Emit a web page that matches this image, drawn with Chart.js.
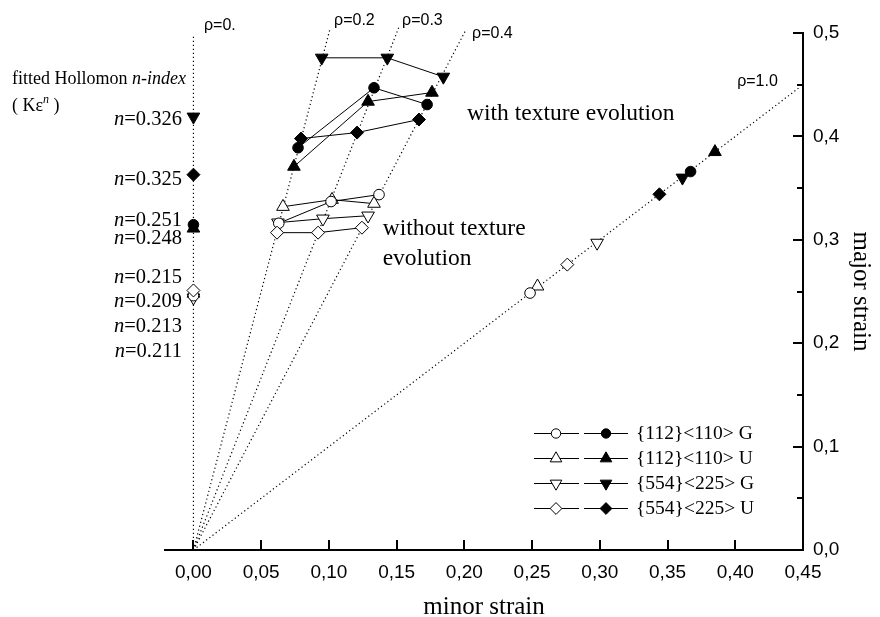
<!DOCTYPE html>
<html>
<head>
<meta charset="utf-8">
<script src="https://cdn.jsdelivr.net/npm/chart.js@4.4.1/dist/chart.umd.min.js"></script>
<style>
    html, body { margin: 0; padding: 0; background: #fff; }
    #wrap { position: relative; width: 880px; height: 617px; }
</style>
</head>
<body>
<div id="wrap"><canvas id="chart"></canvas></div>
<script>
// strain paths, rho = minor / major
const pathLabels = ['ρ=0.', 'ρ=0.2', 'ρ=0.3', 'ρ=0.4', 'ρ=1.0']
const pathEndMinor = [0, 0.101, 0.1515, 0.2007, 0.448]
const pathEndMajor = [0.497, 0.505, 0.505, 0.502, 0.448]

const seriesNames = ['{112}<110> G', '{112}<110> U', '{554}<225> G', '{554}<225> U']

// without texture evolution (open symbols), one point per strain path
const openMinor112G = [0, 0.063, 0.1016, 0.137, 0.2485]
const openMajor112G = [0.246, 0.316, 0.337, 0.3437, 0.2485]
const openMinor112U = [0, 0.0661, 0.1023, 0.1333, 0.254]
const openMajor112U = [0.248, 0.332, 0.3388, 0.335, 0.255]
const openMinor554G = [0, 0.0624, 0.0956, 0.1289, 0.298]
const openMajor554G = [0.244, 0.3166, 0.3204, 0.3233, 0.297]
const openMinor554U = [0, 0.0617, 0.092, 0.1244, 0.276]
const openMajor554U = [0.251, 0.3069, 0.3069, 0.3117, 0.276]

// with texture evolution (filled symbols)
const fillMinor112G = [0, 0.0772, 0.1333, 0.1725, 0.367]
const fillMajor112G = [0.3146, 0.389, 0.447, 0.4308, 0.366]
const fillMinor112U = [0, 0.0742, 0.1289, 0.1761, 0.385]
const fillMajor112U = [0.311, 0.3708, 0.4337, 0.4424, 0.385]
const fillMinor554G = [0, 0.0947, 0.1431, 0.1845, 0.361]
const fillMajor554G = [0.419, 0.476, 0.476, 0.4576, 0.36]
const fillMinor554U = [0, 0.0794, 0.1208, 0.1665, 0.344]
const fillMajor554U = [0.363, 0.3979, 0.4037, 0.4163, 0.344]

// fitted Hollomon n values written next to the rho=0 points
const nValues = ['0.326', '0.325', '0.251', '0.248', '0.215', '0.209', '0.213', '0.211']

const xTicks = [0, 0.05, 0.1, 0.15, 0.2, 0.25, 0.3, 0.35, 0.4, 0.45]
const xTickLabels = ['0,00', '0,05', '0,10', '0,15', '0,20', '0,25', '0,30', '0,35', '0,40', '0,45']
const yTicks = [0, 0.1, 0.2, 0.3, 0.4, 0.5]
const yTickLabels = ['0,0', '0,1', '0,2', '0,3', '0,4', '0,5']
const yMinorTicks = [0.05, 0.15, 0.25, 0.35, 0.45]

const serif = '"Liberation Serif", "Times New Roman", serif'
const sans = '"Liberation Sans", Arial, sans-serif'

const symbols = [
    { pointStyle: 'circle', rotation: 0, radius: 5.3 },
    { pointStyle: 'triangle', rotation: 0, radius: 7.3 },
    { pointStyle: 'triangle', rotation: 180, radius: 7.3 },
    { pointStyle: 'rectRot', rotation: 0, radius: 6.5 },
]

// where the free text sits, in data units
const nLabelX = -0.0085
const nLabelY = [0.4114, 0.3533, 0.3137, 0.2962, 0.2585, 0.2352, 0.211, 0.1868]
const pathLabelX = [0.0078, 0.1038, 0.154, 0.2057, 0.4014]
const pathLabelY = [0.507, 0.512, 0.512, 0.4995, 0.453]

function markerSet(label, minor, major, symbol, fill) {
    return {
        label,
        data: minor.map((x, i) => ({ x, y: major[i] })),
        showLine: true,
        borderColor: '#000',
        borderWidth: 1,
        segment: {
            // only the rho=0.2 .. 0.4 points are joined
            borderColor: ctx => (ctx.p0DataIndex >= 1 && ctx.p1DataIndex <= 3 ? '#000' : 'rgba(0,0,0,0)'),
        },
        pointStyle: symbol.pointStyle,
        pointRotation: symbol.rotation,
        pointRadius: symbol.radius,
        pointHoverRadius: symbol.radius,
        pointBackgroundColor: fill,
        pointBorderColor: '#000',
        pointBorderWidth: 1,
        clip: false,
    }
}

const datasets = [
    markerSet(seriesNames[0], fillMinor112G, fillMajor112G, symbols[0], '#000'),
    markerSet(seriesNames[1], fillMinor112U, fillMajor112U, symbols[1], '#000'),
    markerSet(seriesNames[2], fillMinor554G, fillMajor554G, symbols[2], '#000'),
    markerSet(seriesNames[3], fillMinor554U, fillMajor554U, symbols[3], '#000'),
    markerSet(seriesNames[3], openMinor554U, openMajor554U, symbols[3], '#fff'),
    markerSet(seriesNames[0], openMinor112G, openMajor112G, symbols[0], '#fff'),
    markerSet(seriesNames[1], openMinor112U, openMajor112U, symbols[1], '#fff'),
    markerSet(seriesNames[2], openMinor554G, openMajor554G, symbols[2], '#fff'),
]

pathLabels.forEach((label, i) => {
    datasets.push({
        label,
        data: [{ x: 0, y: 0 }, { x: pathEndMinor[i], y: pathEndMajor[i] }],
        showLine: true,
        borderColor: '#000',
        borderWidth: 1.2,
        borderDash: [1.2, 2.8],
        pointRadius: 0,
        order: 10,
        clip: false,
    })
})

function drawRuns(ctx, runs, x, y, align) {
    let width = 0
    for (const run of runs) {
        ctx.font = run.font
        width += ctx.measureText(run.text).width
    }
    let cx = align === 'right' ? x - width : x
    for (const run of runs) {
        ctx.font = run.font
        ctx.fillText(run.text, cx, y + (run.dy || 0))
        cx += ctx.measureText(run.text).width
    }
}

const decorations = {
    id: 'decorations',
    afterDraw(chart) {
        const { ctx, chartArea, scales: { x, y } } = chart
        const { right, bottom } = chartArea

        ctx.save()
        ctx.strokeStyle = '#000'
        ctx.fillStyle = '#000'

        // inward tick marks
        ctx.lineWidth = 2
        ctx.beginPath()
        for (const v of xTicks) {
            const px = Math.round(x.getPixelForValue(v))
            ctx.moveTo(px, bottom)
            ctx.lineTo(px, bottom - 10)
        }
        for (const v of yTicks) {
            const py = Math.round(y.getPixelForValue(v))
            ctx.moveTo(right, py)
            ctx.lineTo(right - 10, py)
        }
        for (const v of yMinorTicks) {
            const py = Math.round(y.getPixelForValue(v))
            ctx.moveTo(right, py)
            ctx.lineTo(right - 6, py)
        }
        ctx.stroke()

        // strain path names
        ctx.textBaseline = 'middle'
        ctx.textAlign = 'left'
        ctx.font = '16px ' + sans
        pathLabels.forEach((label, i) => {
            ctx.fillText(label, x.getPixelForValue(pathLabelX[i]), y.getPixelForValue(pathLabelY[i]))
        })

        // n-index labels
        ctx.textBaseline = 'alphabetic'
        nValues.forEach((n, i) => {
            drawRuns(ctx, [
                { text: 'n', font: 'italic 20.5px ' + serif },
                { text: '=' + n, font: '20.5px ' + serif },
            ], x.getPixelForValue(nLabelX), y.getPixelForValue(nLabelY[i]), 'right')
        })

        drawRuns(ctx, [
            { text: 'fitted Hollomon ', font: '18px ' + serif },
            { text: 'n-index', font: 'italic 18px ' + serif },
        ], x.getPixelForValue(-0.134), y.getPixelForValue(0.4502), 'left')
        drawRuns(ctx, [
            { text: '( Kε', font: '18px ' + serif },
            { text: 'n', font: 'italic 12px ' + serif, dy: -8 },
            { text: ' )', font: '18px ' + serif },
        ], x.getPixelForValue(-0.134), y.getPixelForValue(0.4245), 'left')

        ctx.font = '23.5px ' + serif
        ctx.fillText('with texture evolution', x.getPixelForValue(0.202), y.getPixelForValue(0.4163))
        ctx.fillText('without texture', x.getPixelForValue(0.1397), y.getPixelForValue(0.305))
        ctx.fillText('evolution', x.getPixelForValue(0.1397), y.getPixelForValue(0.2759))

        // legend: open and filled symbol per row
        const left = right - 269
        ctx.lineWidth = 1
        seriesNames.forEach((name, i) => {
            const ry = Math.round(bottom - 117.5 + i * 25) + 0.5
            ctx.strokeStyle = '#000'
            ctx.beginPath()
            ctx.moveTo(left, ry)
            ctx.lineTo(left + 45, ry)
            ctx.moveTo(left + 50, ry)
            ctx.lineTo(left + 94, ry)
            ctx.stroke()

            const s = symbols[i]
            const opts = { pointStyle: s.pointStyle, rotation: s.rotation, radius: s.radius - 0.6, borderWidth: 1 }
            ctx.fillStyle = '#fff'
            Chart.helpers.drawPoint(ctx, opts, left + 22, ry)
            ctx.fillStyle = '#000'
            Chart.helpers.drawPoint(ctx, opts, left + 72, ry)

            ctx.font = '19.5px ' + serif
            ctx.textBaseline = 'middle'
            ctx.fillText(name, left + 102, ry)
        })

        ctx.restore()
    }
}

new Chart(document.getElementById('chart'), {
    type: 'scatter',
    data: { datasets },
    options: {
        responsive: true,
        maintainAspectRatio: false,
        animation: false,
        events: [],
        layout: { padding: { left: 165, top: 33, right: 0, bottom: 0 } },
        plugins: {
            legend: { display: false },
            tooltip: { enabled: false },
        },
        scales: {
            x: {
                type: 'linear',
                position: 'bottom',
                min: -0.021,
                max: 0.45,
                afterBuildTicks: scale => { scale.ticks = xTicks.map(value => ({ value })) },
                afterFit: scale => { scale.height = 67 },
                ticks: {
                    autoSkip: false,
                    maxRotation: 0,
                    padding: 11,
                    color: '#000',
                    font: { family: sans, size: 19 },
                    callback: value => xTickLabels[xTicks.indexOf(value)],
                },
                grid: { display: true, drawOnChartArea: false, drawTicks: false, color: 'rgba(0,0,0,0)' },
                border: { display: true, color: '#000', width: 2 },
                title: {
                    display: true,
                    text: 'minor strain',
                    color: '#000',
                    font: { family: serif, size: 25, lineHeight: 0.8 },
                    padding: { top: 0, bottom: 0 },
                },
            },
            y: {
                type: 'linear',
                position: 'right',
                min: 0,
                max: 0.5,
                afterBuildTicks: scale => { scale.ticks = yTicks.map(value => ({ value })) },
                afterFit: scale => { scale.width = 77 },
                ticks: {
                    autoSkip: false,
                    padding: 10,
                    color: '#000',
                    font: { family: sans, size: 19 },
                    callback: value => yTickLabels[yTicks.indexOf(value)],
                },
                grid: { display: true, drawOnChartArea: false, drawTicks: false, color: 'rgba(0,0,0,0)' },
                border: { display: true, color: '#000', width: 2 },
                title: {
                    display: true,
                    text: 'major strain',
                    color: '#000',
                    font: { family: serif, size: 25, lineHeight: 0.8 },
                    padding: { top: 9, bottom: 0 },
                },
            },
        },
    },
    plugins: [decorations],
})
</script>
</body>
</html>
